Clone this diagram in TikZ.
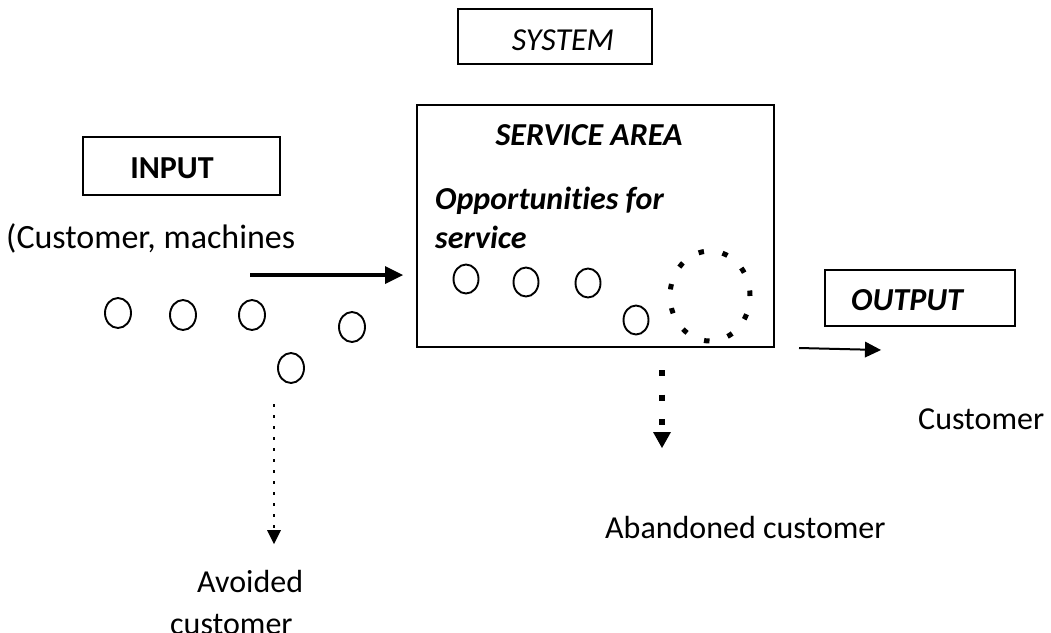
\documentclass[tikz,border=0pt]{standalone}
\usepackage{fontspec}
\setmainfont{Carlito}[Ligatures=NoCommon]
\usetikzlibrary{arrows.meta}
\begin{document}
\begin{tikzpicture}[x=1pt,y=-1pt,
  txt/.style={inner sep=0pt,font=\fontsize{32}{38}\selectfont},
  txtbig/.style={inner sep=0pt,font=\fontsize{34}{40}\selectfont},
  boxed/.style={draw,line width=1.5pt,inner sep=0pt},
  unit/.style={line width=1.9pt},
  tipbig/.style={-{Triangle[length=18pt,width=18pt,line width=0pt]}},
  tipmid/.style={-{Triangle[length=16pt,width=16pt,line width=0pt]}},
  tipdot/.style={-{Triangle[length=16pt,width=18pt,line width=0pt]}},
  tipsmall/.style={-{Triangle[length=14pt,width=14pt,line width=0pt]}}]
\useasboundingbox (0,0) rectangle (1051,632);
\clip (0,0) rectangle (1051,632);

% frames
\node[boxed,minimum width=194pt,minimum height=55pt] (system) at (555,36.5) {};
\node[boxed,minimum width=357pt,minimum height=242pt] (service) at (595.5,226) {};
\node[boxed,minimum width=197pt,minimum height=58pt] (input) at (181.5,166) {};
\node[boxed,minimum width=190pt,minimum height=56pt] (output) at (920,298) {};

% labels
\node[txt,anchor=base] (systemtxt) at (563,50) {\itshape SYSTEM};
\node[txt,anchor=base] (servicetxt) at (589,145) {\bfseries\itshape SERVICE AREA};
\node[txt,anchor=base west] (opp1) at (435,209) {\bfseries\itshape Opportunities for};
\node[txt,anchor=base west] (opp2) at (435,248) {\bfseries\itshape service};
\node[txt,anchor=base] (inputtxt) at (172,178) {\bfseries INPUT};
\node[txtbig,anchor=base west] (inputsub) at (6,248) {(Customer, machines};
\node[txt,anchor=base west] (outputtxt) at (851,310) {\bfseries\itshape OUTPUT};
\node[txt,anchor=base west] (outcust) at (918,429) {Customer};
\node[txt,anchor=base west] (abandoned) at (605,538) {Abandoned customer};
\node[txt,anchor=base west] (avoided1) at (197,592) {Avoided};
\node[txt,anchor=base west] (avoided2) at (170,634) {customer};

% customers waiting outside
\draw[unit] (118,313) ellipse [x radius=13pt,y radius=15pt];
\draw[unit] (183,315) ellipse [x radius=13pt,y radius=15pt];
\draw[unit] (252,315) ellipse [x radius=13pt,y radius=15pt];
\draw[unit] (352,327) ellipse [x radius=13pt,y radius=15pt];
\draw[unit] (291,368) ellipse [x radius=13pt,y radius=15pt];

% customers inside the service area
\draw[unit] (466,279) ellipse [x radius=12.5pt,y radius=14.5pt];
\draw[unit] (526,282) ellipse [x radius=12.5pt,y radius=14.5pt];
\draw[unit] (588,283) ellipse [x radius=12.5pt,y radius=14.5pt];
\draw[unit] (636,320) ellipse [x radius=12.5pt,y radius=14.5pt];
% server
\draw[line width=5pt,dash pattern=on 5.5pt off 18.8pt] (710,296) ellipse [x radius=40pt,y radius=45pt];

% flows
\coordinate (inA) at (250,275);
\coordinate (inB) at (403,275);
\draw[line width=4.5pt,tipbig] (inA) -- (inB);

\coordinate (outA) at (799,348);
\coordinate (outB) at (881,350);
\draw[line width=2pt,tipmid] (outA) -- (outB);

\coordinate (abA) at (662,370);
\coordinate (abB) at (662,448);
\draw[line width=6pt,dash pattern=on 6pt off 18.5pt,tipdot] (abA) -- (abB);

\coordinate (avA) at (274,404);
\coordinate (avB) at (274,544);
\draw[line width=2.5pt,dash pattern=on 2.5pt off 8.5pt,tipsmall] (avA) -- (avB);
\end{tikzpicture}
\end{document}
